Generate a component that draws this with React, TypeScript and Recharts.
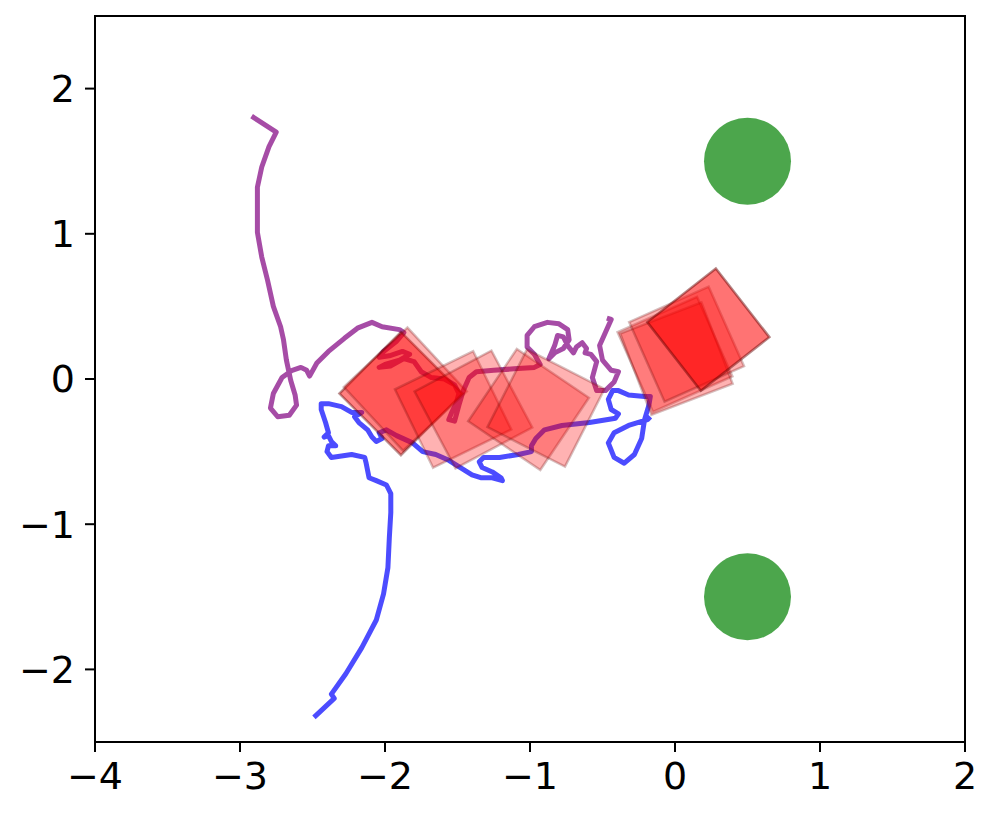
import React from 'react';
import { ScatterChart, Scatter, XAxis, YAxis, ReferenceArea } from 'recharts';

const xTicks = [-4, -3, -2, -1, 0, 1, 2];
const yTicks = [-2, -1, 0, 1, 2];

const purplePath: [number, number][] = [
  [-2.92, 1.81], [-2.75, 1.70], [-2.80, 1.60], [-2.85, 1.46], [-2.88, 1.32], [-2.88, 1.17],
  [-2.88, 1.01], [-2.85, 0.84], [-2.81, 0.68], [-2.77, 0.50], [-2.72, 0.36], [-2.70, 0.27],
  [-2.68, 0.13], [-2.65, -0.01], [-2.62, -0.11], [-2.61, -0.18], [-2.66, -0.25], [-2.74, -0.26],
  [-2.79, -0.20], [-2.77, -0.10], [-2.71, 0.01], [-2.64, 0.06], [-2.58, 0.08], [-2.54, 0.06],
  [-2.52, 0.02], [-2.47, 0.11], [-2.39, 0.19], [-2.28, 0.28], [-2.19, 0.35], [-2.09, 0.39],
  [-2.02, 0.36], [-1.90, 0.34], [-1.87, 0.32], [-1.92, 0.26], [-2.01, 0.19], [-2.04, 0.15],
  [-1.97, 0.16], [-1.88, 0.19], [-1.83, 0.17], [-1.90, 0.13], [-2.00, 0.10], [-2.04, 0.08],
  [-1.96, 0.09], [-1.87, 0.14], [-1.80, 0.12], [-1.75, 0.05], [-1.68, 0.01], [-1.59, 0.00],
  [-1.52, -0.04], [-1.49, -0.10], [-1.51, -0.17], [-1.54, -0.23], [-1.56, -0.28], [-1.52, -0.29],
  [-1.49, -0.18], [-1.46, -0.08], [-1.42, 0.01], [-1.37, 0.05], [-1.25, 0.06], [-1.11, 0.07],
  [-0.97, 0.08], [-0.93, 0.10], [-0.97, 0.17], [-1.02, 0.22], [-1.02, 0.30], [-0.97, 0.36],
  [-0.88, 0.39], [-0.80, 0.38], [-0.74, 0.34], [-0.73, 0.27], [-0.77, 0.21], [-0.83, 0.18],
  [-0.87, 0.14], [-0.83, 0.23], [-0.81, 0.30], [-0.77, 0.29], [-0.74, 0.23], [-0.70, 0.18],
  [-0.68, 0.22], [-0.64, 0.25], [-0.61, 0.21], [-0.62, 0.18], [-0.58, 0.17], [-0.54, 0.12],
  [-0.57, 0.01], [-0.54, -0.08], [-0.48, -0.08], [-0.42, -0.02], [-0.39, 0.05], [-0.44, 0.06],
  [-0.50, 0.13], [-0.52, 0.23], [-0.48, 0.32], [-0.44, 0.41], [-0.47, 0.42],
];

const bluePath: [number, number][] = [
  [-2.49, -2.33], [-2.35, -2.20], [-2.37, -2.17], [-2.27, -2.03], [-2.16, -1.85], [-2.06, -1.66],
  [-2.01, -1.48], [-1.98, -1.30], [-1.97, -1.09], [-1.96, -0.92], [-1.96, -0.79], [-1.99, -0.73],
  [-2.06, -0.70], [-2.11, -0.68], [-2.13, -0.58], [-2.14, -0.54], [-2.23, -0.52], [-2.37, -0.54],
  [-2.40, -0.50], [-2.39, -0.46], [-2.34, -0.46], [-2.37, -0.43], [-2.39, -0.39], [-2.42, -0.40],
  [-2.39, -0.37], [-2.41, -0.30], [-2.44, -0.21], [-2.44, -0.17], [-2.39, -0.17], [-2.30, -0.19],
  [-2.23, -0.23], [-2.16, -0.23], [-2.21, -0.26], [-2.18, -0.30], [-2.12, -0.35], [-2.09, -0.40],
  [-2.06, -0.43], [-2.02, -0.41], [-2.04, -0.37], [-1.99, -0.35], [-1.92, -0.39], [-1.81, -0.44],
  [-1.74, -0.50], [-1.65, -0.52], [-1.56, -0.56], [-1.48, -0.61], [-1.40, -0.66], [-1.34, -0.68],
  [-1.26, -0.68], [-1.19, -0.70], [-1.20, -0.68], [-1.26, -0.64], [-1.33, -0.61], [-1.35, -0.57],
  [-1.32, -0.54], [-1.21, -0.54], [-1.08, -0.52], [-0.99, -0.50], [-0.99, -0.46], [-0.96, -0.41],
  [-0.90, -0.35], [-0.78, -0.32], [-0.59, -0.30], [-0.41, -0.27], [-0.39, -0.24], [-0.44, -0.21],
  [-0.46, -0.14], [-0.43, -0.08], [-0.39, -0.08], [-0.32, -0.11], [-0.21, -0.12], [-0.17, -0.12],
  [-0.18, -0.18], [-0.21, -0.28], [-0.23, -0.41], [-0.28, -0.52], [-0.35, -0.58], [-0.42, -0.54],
  [-0.46, -0.44], [-0.42, -0.37], [-0.32, -0.32], [-0.19, -0.28], [-0.17, -0.26],
];

const boxCenters: [number, number][] = [
  [-1.89, -0.10], [-1.86, -0.07], [-1.53, -0.21], [-1.39, -0.21], [-1.01, -0.21],
  [-0.89, -0.20], [0.00, 0.17], [0.01, 0.14], [0.08, 0.24], [0.23, 0.34],
];
const boxAngles = [45, 43, 26, 28, 56, 63, 24, 21, 24, 38];
const boxAlphas = [0.5, 0.3, 0.3, 0.3, 0.3, 0.3, 0.3, 0.3, 0.3, 0.55];
const boxSide = 0.6;

const goalCenters: [number, number][] = [[0.5, 1.5], [0.5, -1.5]];
const goalRadius = 0.3;

const toPoints = (p: [number, number][]) => p.map(([x, y]) => ({ x, y }));

const boxCorners = (i: number) => {
  const [cx, cy] = boxCenters[i];
  const t = (boxAngles[i] * Math.PI) / 180;
  const h = boxSide / 2;
  const c = Math.cos(t);
  const s = Math.sin(t);
  return [[-h, -h], [h, -h], [h, h], [-h, h]].map(([u, v]) => ({
    x: cx + u * c - v * s,
    y: cy + u * s + v * c,
  }));
};

const NoShape = () => <g />;

const polygonLine = (alpha: number) => (props: any) => {
  const pts = props.points || [];
  const d = pts.map((p: any, i: number) => `${i ? 'L' : 'M'}${p.x},${p.y}`).join('') + 'Z';
  return (
    <path
      d={d}
      fill="#ff0000"
      fillOpacity={alpha}
      stroke="#600000"
      strokeOpacity={Math.min(1, alpha * 0.85)}
      strokeWidth={2.5}
      strokeLinejoin="miter"
    />
  );
};

const trajLine = (color: string) => (props: any) => {
  const pts = props.points || [];
  const d = pts.map((p: any, i: number) => `${i ? 'L' : 'M'}${p.x},${p.y}`).join('');
  return (
    <path
      d={d}
      fill="none"
      stroke={color}
      strokeOpacity={0.7}
      strokeWidth={5}
      strokeLinejoin="round"
      strokeLinecap="butt"
    />
  );
};

const circleLine = (props: any) => {
  const pts = props.points || [];
  if (pts.length < 2) return <g />;
  const r = Math.abs(pts[1].x - pts[0].x);
  return <circle cx={pts[0].x} cy={pts[0].y} r={r} fill="#008000" fillOpacity={0.7} />;
};

const fmt = (v: number) => (v < 0 ? `\u2212${Math.abs(v)}` : `${v}`);

const tickStyle = { fill: '#000', fontSize: 38, fontFamily: 'DejaVu Sans' };

export default function App() {
  return (
    <div style={{ position: 'absolute', left: 0, top: 0, background: '#fff' }}>
      <ScatterChart width={996} height={816} margin={{ top: 16, right: 31, left: 0, bottom: 0 }}>
        <XAxis
          type="number"
          dataKey="x"
          domain={[-4, 2]}
          ticks={xTicks}
          allowDataOverflow
          height={74}
          tickSize={10}
          tickMargin={10}
          tickFormatter={fmt}
          tick={tickStyle}
          axisLine={{ stroke: '#000', strokeWidth: 2 }}
          tickLine={{ stroke: '#000', strokeWidth: 2 }}
        />
        <YAxis
          type="number"
          dataKey="y"
          domain={[-2.5, 2.5]}
          ticks={yTicks}
          allowDataOverflow
          width={95}
          tickSize={10}
          tickMargin={10}
          tickFormatter={fmt}
          tick={tickStyle}
          axisLine={{ stroke: '#000', strokeWidth: 2 }}
          tickLine={{ stroke: '#000', strokeWidth: 2 }}
        />
        <Scatter
          data={toPoints(purplePath)}
          isAnimationActive={false}
          shape={NoShape}
          line={trajLine('#800080')}
        />
        <Scatter
          data={toPoints(bluePath)}
          isAnimationActive={false}
          shape={NoShape}
          line={trajLine('#0000ff')}
        />
        {boxCenters.map((_, i) => (
          <Scatter
            key={`box-${i}`}
            data={boxCorners(i)}
            isAnimationActive={false}
            shape={NoShape}
            line={polygonLine(boxAlphas[i])}
          />
        ))}
        {goalCenters.map(([cx, cy], i) => (
          <Scatter
            key={`goal-${i}`}
            data={[{ x: cx, y: cy }, { x: cx + goalRadius, y: cy }]}
            isAnimationActive={false}
            shape={NoShape}
            line={circleLine}
          />
        ))}
        <ReferenceArea
          x1={-4}
          x2={2}
          y1={-2.5}
          y2={2.5}
          fill="none"
          stroke="#000"
          strokeWidth={2}
          ifOverflow="visible"
        />
      </ScatterChart>
    </div>
  );
}
